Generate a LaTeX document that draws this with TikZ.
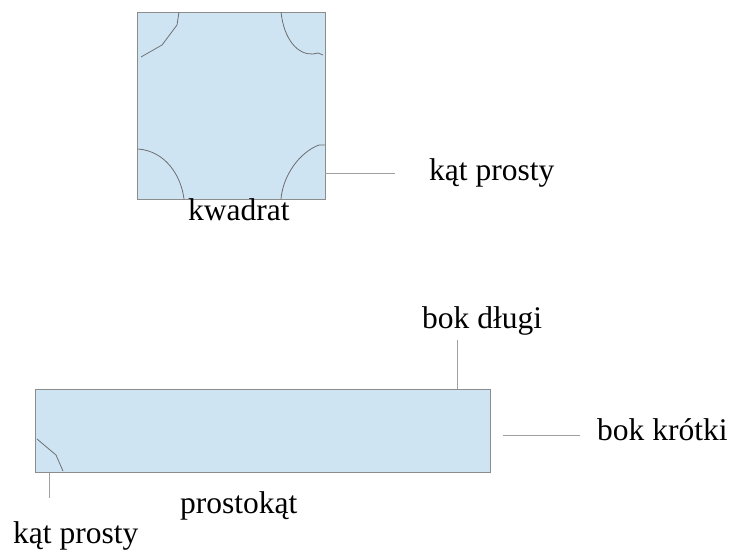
\documentclass[tikz,border=0pt]{standalone}
\usepackage{fontspec}
\setmainfont{Liberation Serif}
\definecolor{shapefill}{HTML}{CFE4F3}
\definecolor{shapeborder}{HTML}{8C8C8C}
\definecolor{leader}{HTML}{A0A0A0}
\definecolor{anglemark}{HTML}{6E6E6E}
\begin{document}
\begin{tikzpicture}[x=1pt,y=-1pt,
  shapebox/.style={draw=shapeborder,fill=shapefill,line width=0.9pt,inner sep=0pt,rectangle},
  lbl/.style={anchor=base west,inner sep=0pt,font=\fontsize{31.5}{37}\selectfont},
  leaderline/.style={draw=leader,line width=0.9pt},
  anglearc/.style={draw=anglemark,line width=0.8pt}]
\useasboundingbox (0,0) rectangle (733,557);
% square
\node[shapebox,minimum width=188pt,minimum height=187pt] (sq) at (231,105.5) {};
\draw[anglearc] (179,12) -- (177,25) -- (162,45) -- (141,57);
\draw[anglearc] (281,12) .. controls (284,40) and (298,55) .. (313,54) -- (318,53) -- (323,55);
\draw[anglearc] (138,149) .. controls (165,151) and (181,175) .. (184,199);
\draw[anglearc] (281,199) .. controls (283,175) and (300,152) .. (319,145) -- (325,145);
\node[lbl] (kw) at (188,220) {kwadrat};
\node[lbl] (kp1) at (429,180) {kąt prosty};
\coordinate (a1) at (325,173);
\coordinate (a2) at (395,173);
\draw[leaderline] (a1) -- (a2);
% rectangle
\node[shapebox,minimum width=455pt,minimum height=83pt] (rc) at (262.5,430.5) {};
\draw[anglearc] (37,439) -- (56,455) -- (63,471);
\node[lbl] (bd) at (422,328) {bok długi};
\node[lbl] (bk) at (597,440) {bok krótki};
\node[lbl] (pr) at (180,513) {prostokąt};
\node[lbl] (kp2) at (13,543) {kąt prosty};
\coordinate (b1) at (457,389);
\coordinate (b2) at (457,340);
\draw[leaderline] (b1) -- (b2);
\coordinate (c1) at (503,435);
\coordinate (c2) at (580,435);
\draw[leaderline] (c1) -- (c2);
\coordinate (d1) at (49,473);
\coordinate (d2) at (49,498);
\draw[leaderline] (d1) -- (d2);
\end{tikzpicture}
\end{document}
